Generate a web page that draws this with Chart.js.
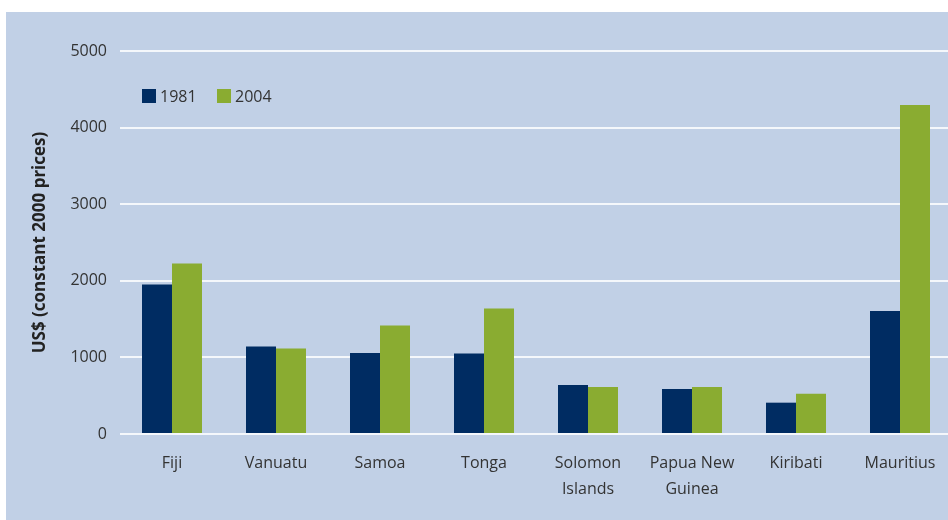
<!DOCTYPE html>
<html>
<head>
<meta charset="utf-8">
<script src="https://cdn.jsdelivr.net/npm/chart.js@4/dist/chart.umd.min.js"></script>
<style>
  html, body { margin: 0; padding: 0; background: #ffffff; width: 948px; height: 520px; overflow: hidden; position: relative; }
  #panel { position: absolute; left: 6px; top: 12px; width: 942px; height: 508px; background: #c1d0e6; }
  #wrap { position: absolute; left: 0; top: 0; width: 960px; height: 520px; }
</style>
</head>
<body>
<div id="panel"></div>
<div id="wrap"><canvas id="c" width="960" height="520"></canvas></div>
<script>
const categories = ["Fiji", "Vanuatu", "Samoa", "Tonga", ["Solomon", "Islands"], ["Papua New", "Guinea"], "Kiribati", "Mauritius"];
const seriesNames = ["1981", "2004"];
const values1981 = [1952, 1141, 1057, 1050, 640, 587, 409, 1606];
const values2004 = [2226, 1115, 1416, 1638, 614, 614, 527, 4295];
const yTicks = [0, 1000, 2000, 3000, 4000, 5000];
const yTitle = "US$ (constant 2000 prices)";

const NAVY = "#002c62";
const GREEN = "#8aac31";
const TEXT = "#333333";
const FONT = "'Open Sans', 'DejaVu Sans', sans-serif";

const legendPlugin = {
  id: "insideLegend",
  afterDraw(chart) {
    const ctx = chart.ctx;
    ctx.save();
    ctx.font = "16px " + FONT;
    ctx.textBaseline = "middle";
    ctx.textAlign = "left";
    let x = 142;
    const y = 96;
    chart.data.datasets.forEach(ds => {
      ctx.fillStyle = ds.backgroundColor;
      ctx.fillRect(x, y - 7, 14, 14);
      ctx.fillStyle = TEXT;
      ctx.fillText(ds.label, x + 18, y + 1);
      x += 75;
    });
    ctx.restore();
  }
};

new Chart(document.getElementById("c"), {
  type: "bar",
  data: {
    labels: categories,
    datasets: [
      { label: seriesNames[0], data: values1981, backgroundColor: NAVY, categoryPercentage: 60/104, barPercentage: 1.0 },
      { label: seriesNames[1], data: values2004, backgroundColor: GREEN, categoryPercentage: 60/104, barPercentage: 1.0 }
    ]
  },
  options: {
    responsive: false,
    animation: false,
    layout: { padding: { top: 51, right: 8, left: 0, bottom: 0 } },
    plugins: { legend: { display: false }, tooltip: { enabled: false }, title: { display: false } },
    scales: {
      x: {
        offset: true,
        grid: { display: false, drawTicks: false },
        border: { display: false },
        ticks: { color: TEXT, font: { family: FONT, size: 16, lineHeight: 1.6 }, padding: 17, maxRotation: 0, autoSkip: false },
        afterFit: s => { s.height = 86; }
      },
      y: {
        min: 0, max: 5000,
        afterBuildTicks: s => { s.ticks = yTicks.map(v => ({ value: v })); },
        grid: { color: "#f4f7fb", lineWidth: 2, drawTicks: false },
        border: { display: false },
        ticks: { color: TEXT, font: { family: FONT, size: 16 }, padding: 13, callback: v => String(v) },
        title: { display: true, text: yTitle, color: "#222222", font: { family: FONT, size: 17, weight: "bold" }, padding: { top: 30, bottom: 0 } },
        afterFit: s => { s.width = 120; }
      }
    }
  },
  plugins: [legendPlugin]
});
</script>
</body>
</html>
